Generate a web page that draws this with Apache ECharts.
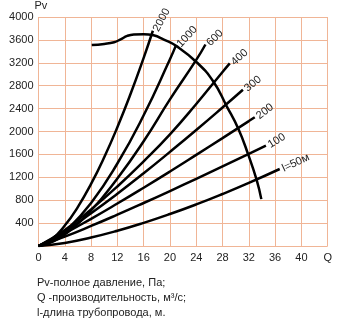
<!DOCTYPE html>
<html>
<head>
<meta charset="utf-8">
<script src="https://cdn.jsdelivr.net/npm/echarts@6/dist/echarts.min.js"></script>
<style>
  html, body { margin: 0; padding: 0; background: #ffffff; }
  #chart { width: 343px; height: 328px; }
</style>
</head>
<body>
<div id="chart"></div>
<script>
// Q, m³/s ticks and Pv, Pa ticks
var qTicks = [0, 4, 8, 12, 16, 20, 24, 28, 32, 36, 40, 44];
var pvTicks = [400, 800, 1200, 1600, 2000, 2400, 2800, 3200, 3600, 4000];

// Network curves for duct length l (label, [Q, Pv] points)
var curveLabels = ['2000', '1000', '600', '400', '300', '200', '100', 'l=50м'];
var curve2000 = [[0,0],[2,118],[4,358],[6,684],[8,1085],[10,1550],[12,2075],[14,2655],[16,3287],[17.4,3760]];
var curve1000 = [[0,0],[2,80],[4,248],[8,753],[12,1441],[16,2283],[20,3262],[20.9,3500]];
var curve600  = [[0,0],[2,70],[4,200],[8,620],[12,1180],[16,1830],[20,2560],[24,3250],[25.4,3520]];
var curve400  = [[0,0],[4,280],[8,640],[12,1040],[16,1480],[20,1950],[24,2480],[28,3040],[29.1,3190]];
var curve300  = [[0,0],[4,258],[8,573],[12,913],[16,1271],[20,1644],[24,2026],[28,2419],[31.1,2730]];
var curve200  = [[0,0],[4,222],[8,475],[12,742],[16,1018],[20,1301],[24,1591],[28,1884],[32,2182],[32.9,2250]];
var curve100  = [[0,0],[4,164],[8,350],[12,547],[16,751],[20,960],[24,1173],[28,1390],[32,1610],[34.6,1754]];
var curve50   = [[0,0],[4,54],[8,148],[12,266],[16,404],[20,558],[24,726],[28,908],[32,1102],[36.7,1345]];
var curveRotate = [62, 47, 45, 42, 40, 38, 32, 25];

// Fan characteristic
var fanCurve = [[8.1,3510],[10,3530],[11.5,3560],[12.5,3610],[13.5,3670],[14.5,3695],[16,3700],[17.5,3680],
  [19,3610],[21,3491],[24.1,3205],[26.6,2873],[28.6,2449],[30.4,2047],[31.9,1600],[33.2,1150],[33.9,819]];

var notes = ['Pv-полное давление, Па;', 'Q -производительность, м³/с;', 'l-длина трубопровода, м.'];

var gridColor = '#f0b596';
var textColor = '#222222';
var fontFamily = '"Liberation Sans", Arial, sans-serif';

var curves = [curve2000, curve1000, curve600, curve400, curve300, curve200, curve100, curve50];

var series = curves.map(function (pts, i) {
  var last = pts.length - 1;
  return {
    type: 'line',
    data: pts,
    smooth: true,
    symbol: 'circle',
    symbolSize: 0,
    showSymbol: true,
    lineStyle: { color: '#000', width: 2.5 },
    itemStyle: { color: '#000' },
    label: {
      show: true,
      position: 'right',
      distance: 3,
      rotate: curveRotate[i],
      color: textColor,
      fontSize: 11,
      fontFamily: fontFamily,
      formatter: function (p) { return p.dataIndex === last ? curveLabels[i] : ''; }
    },
    z: 3
  };
});

series.push({
  type: 'line',
  data: fanCurve,
  smooth: true,
  symbol: 'none',
  lineStyle: { color: '#000', width: 2.5 },
  z: 4
});

var chart = echarts.init(document.getElementById('chart'), null, { renderer: 'canvas' });
chart.setOption({
  animation: false,
  backgroundColor: '#ffffff',
  grid: { left: 38.5, right: 15.3, top: 17, bottom: 82, containLabel: false },
  xAxis: {
    type: 'value',
    min: qTicks[0],
    max: qTicks[qTicks.length - 1],
    interval: 4,
    axisLine: { show: false },
    axisTick: { show: false },
    splitLine: { show: true, lineStyle: { color: gridColor, width: 1 } },
    axisLabel: {
      color: textColor, fontSize: 11, fontFamily: fontFamily, margin: 6,
      formatter: function (v) { return v === 44 ? 'Q' : String(v); }
    }
  },
  yAxis: {
    type: 'value',
    min: 0,
    max: pvTicks[pvTicks.length - 1],
    interval: 400,
    name: 'Pv',
    nameLocation: 'end',
    nameGap: 4,
    nameTextStyle: { color: textColor, fontSize: 11, fontFamily: fontFamily, align: 'left', padding: [0, 0, 0, -4] },
    axisLine: { show: false },
    axisTick: { show: false },
    splitLine: { show: true, lineStyle: { color: gridColor, width: 1 } },
    axisLabel: {
      color: textColor, fontSize: 11, fontFamily: fontFamily, margin: 5,
      formatter: function (v) { return v === 0 ? '' : String(v); }
    }
  },
  graphic: notes.map(function (t, i) {
    return {
      type: 'text',
      left: 37,
      top: 277 + i * 15,
      style: { text: t, fill: textColor, font: '11px ' + fontFamily }
    };
  }),
  series: series
});
</script>
</body>
</html>
